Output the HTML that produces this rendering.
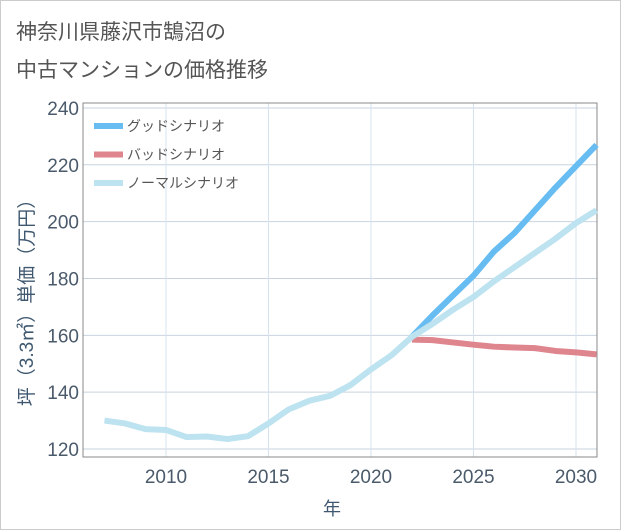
<!DOCTYPE html>
<html><head><meta charset="utf-8"><style>
body{margin:0;background:#fff;font-family:"Liberation Sans","Noto Sans CJK JP",sans-serif;}
#card{position:absolute;left:0;top:0;width:619px;height:528px;border:1px solid #ccc;background:#fff;}
#title{position:absolute;left:16px;top:14px;font-size:21px;line-height:38px;color:#555;}
</style></head><body>
<div id="card"></div>
<div id="title">神奈川県藤沢市鵠沼の<br>中古マンションの価格推移</div>
<svg id="chart" width="621" height="530" style="position:absolute;left:0;top:0"></svg>
<script>
const years=[2007,2008,2009,2010,2011,2012,2013,2014,2015,2016,2017,2018,2019,2020,2021,2022,2023,2024,2025,2026,2027,2028,2029,2030,2031];
const normalVals=[130,129,127,126.7,124.2,124.4,123.5,124.5,129,134,137,138.7,142.5,148,153,159.5,164,169,173.5,179,184,189,194,199.5,204];
const goodYears=[2022,2023,2024,2025,2026,2027,2028,2029,2030,2031];
const goodVals=[159.5,167,174,181,189.5,196,204,212,219.5,227];
const badVals=[158.5,158.3,157.5,156.7,156,155.7,155.5,154.5,154,153.3];
const yTicks=[120,140,160,180,200,220,240];
const xTicks=[2010,2015,2020,2025,2030];
const L=83,R=597,T=103,B=457;
const x=v=>166+(v-2010)*20.5;
const y=v=>449-(v-120)*2.842;
const svg=document.getElementById('chart');
const NS='http://www.w3.org/2000/svg';
function mk(t,a){const e=document.createElementNS(NS,t);for(const k in a)e.setAttribute(k,a[k]);svg.appendChild(e);return e;}
yTicks.forEach(v=>{
 const g=mk('line',{x1:L,x2:R,y1:y(v),y2:y(v),stroke:'#c8d3df','stroke-width':1});
 
 
 const t=mk('text',{x:L-4,y:y(v)+7,'text-anchor':'end','font-size':19,fill:'#4a5a6a'});
 t.textContent=v;
 
 
});
xTicks.forEach(v=>{
 const g=mk('line',{x1:x(v),x2:x(v),y1:T,y2:B,stroke:'#d5e3ef','stroke-width':1});
 
 
 const t=mk('text',{x:x(v),y:B+26,'text-anchor':'middle','font-size':19,fill:'#4a5a6a'});
 t.textContent=v;
 
 
});
const fr=mk('rect',{x:L,y:T,width:R-L,height:B-T,fill:'none',stroke:'#888','stroke-width':1});


function line(xs,vs,c,n){
 const p=mk('polyline',{points:xs.map((yr,i)=>x(yr)+','+y(vs[i])).join(' '),fill:'none',stroke:c,'stroke-width':6,'stroke-linejoin':'round'});
 
 
}
line(goodYears,badVals,'#df858e','bad-scenario-line');
line(goodYears,goodVals,'#67bcf2','good-scenario-line');
line(years,normalVals,'#bde2f0','normal-scenario-line');
const leg=[['グッドシナリオ','#67bcf2'],['バッドシナリオ','#df858e'],['ノーマルシナリオ','#bde2f0']];
leg.forEach((d,i)=>{
 const yy=126+i*28.5;
 const s=mk('line',{x1:94,x2:123,y1:yy,y2:yy,stroke:d[1],'stroke-width':6});
 
 
 const t=mk('text',{x:127,y:yy+5,'font-size':14,fill:'#555'});
 t.textContent=d[0];
 
 
});
const yl=mk('text',{transform:'translate(33,298) rotate(-90)','text-anchor':'middle','font-size':19,fill:'#3f5870'});
yl.textContent='坪（3.3㎡）単価（万円）';


const xl=mk('text',{x:332,y:515,'text-anchor':'middle','font-size':18,fill:'#3f5870'});
xl.textContent='年';


</script>
</body></html>
